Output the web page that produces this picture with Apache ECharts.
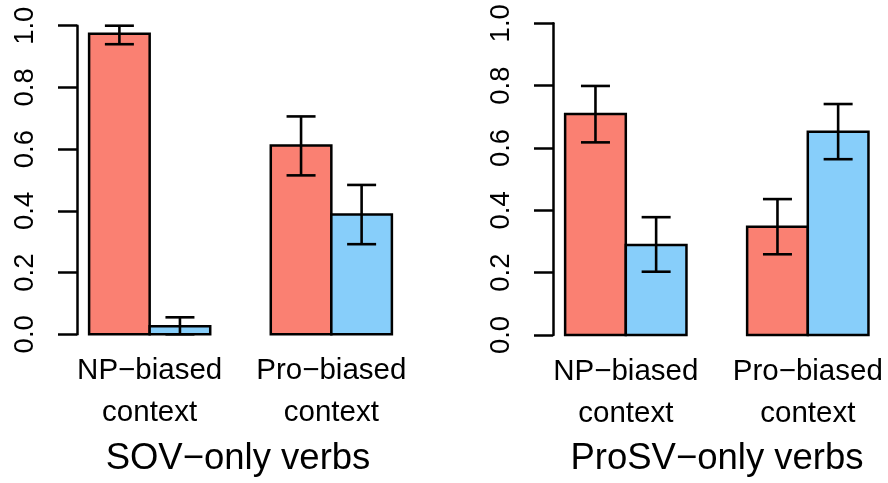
<!DOCTYPE html>
<html>
<head>
<meta charset="utf-8">
<script src="https://cdn.jsdelivr.net/npm/echarts@6/dist/echarts.min.js"></script>
<style>
  html, body { margin: 0; padding: 0; background: #fff; }
  #chart { width: 888px; height: 483px; }
</style>
</head>
<body>
<div id="chart"></div>
<script>
// 数据
const categories = ['NP\u2212biased\ncontext', 'Pro\u2212biased\ncontext'];
const panelTitles = ['SOV\u2212only verbs', 'ProSV\u2212only verbs'];
const yTicks = [0, 0.2, 0.4, 0.6, 0.8, 1.0];

// SOV-only verbs: [NP-biased, Pro-biased]
const sovRed = [0.974, 0.612];
const sovBlue = [0.026, 0.388];
const sovRedLow = [0.94, 0.515];
const sovRedHigh = [1.0, 0.706];
const sovBlueLow = [0.0, 0.292];
const sovBlueHigh = [0.055, 0.484];

// ProSV-only verbs
const prosvRed = [0.709, 0.347];
const prosvBlue = [0.289, 0.652];
const prosvRedLow = [0.618, 0.259];
const prosvRedHigh = [0.799, 0.436];
const prosvBlueLow = [0.203, 0.564];
const prosvBlueHigh = [0.378, 0.741];

const colors = ['#FA8072', '#87CEFA'];
const font = "'Liberation Sans', Arial, Helvetica, sans-serif";

const myChart = echarts.init(document.getElementById('chart'));

const grids = [
  { left: 77, right: 484, top: 25.7, bottom: 148.7 },
  { left: 553, right: 7.4, top: 23.3, bottom: 148 }
];

function barData(red, blue) {
  const out = [];
  red.forEach((v, g) => out.push([g, 0, v]));
  blue.forEach((v, g) => out.push([g, 1, v]));
  return out;
}
function errData(rl, rh, bl, bh) {
  const out = [];
  rl.forEach((v, g) => out.push([g, 0, v, rh[g]]));
  bl.forEach((v, g) => out.push([g, 1, v, bh[g]]));
  return out;
}

// 柱子：每组两根，组间空一根柱宽
function renderBar(params, api) {
  const g = api.value(0), b = api.value(1), v = api.value(2);
  const x0 = 1 + g * 3 + b;
  const p0 = api.coord([x0, 0]);
  const p1 = api.coord([x0 + 1, v]);
  return {
    type: 'rect',
    shape: { x: p0[0], y: p1[1], width: p1[0] - p0[0], height: p0[1] - p1[1] },
    style: { fill: colors[b], stroke: '#000', lineWidth: 2.5 }
  };
}

function renderErr(params, api) {
  const g = api.value(0), b = api.value(1);
  const xc = 1 + g * 3 + b + 0.5;
  const lo = api.coord([xc, api.value(2)]);
  const hi = api.coord([xc, api.value(3)]);
  const w = 14.5;
  const st = { stroke: '#000', lineWidth: 2.6, fill: null };
  return {
    type: 'group',
    children: [
      { type: 'line', shape: { x1: lo[0], y1: lo[1], x2: hi[0], y2: hi[1] }, style: st },
      { type: 'line', shape: { x1: lo[0] - w, y1: lo[1], x2: lo[0] + w, y2: lo[1] }, style: st },
      { type: 'line', shape: { x1: hi[0] - w, y1: hi[1], x2: hi[0] + w, y2: hi[1] }, style: st }
    ]
  };
}

const xAxes = grids.map((g, i) => ({
  type: 'value',
  gridIndex: i,
  min: 0.8,
  max: 6.2,
  axisLine: { show: false },
  axisTick: { show: false },
  splitLine: { show: false },
  axisLabel: {
    customValues: [2, 5],
    formatter: v => categories[Math.round((v - 2) / 3)],
    color: '#000',
    fontFamily: font,
    fontSize: 29.5,
    lineHeight: 42,
    margin: 16
  }
}));

const yAxes = grids.map((g, i) => ({
  type: 'value',
  gridIndex: i,
  min: 0,
  max: 1,
  interval: 0.2,
  splitLine: { show: false },
  axisLine: { show: true, lineStyle: { color: '#000', width: 2.5 } },
  axisTick: { show: true, length: 19, lineStyle: { color: '#000', width: 2.5 } },
  axisLabel: {
    rotate: 90,
    margin: 38,
    color: '#000',
    fontFamily: font,
    fontSize: 27.5,
    formatter: v => v.toFixed(1)
  }
}));

const options = {
  animation: false,
  backgroundColor: '#fff',
  title: panelTitles.map((t, i) => ({
    text: t,
    left: i === 0 ? 238 : 717,
    top: 440,
    textAlign: 'center',
    padding: 0,
    textStyle: { color: '#000', fontFamily: font, fontSize: 36.5, fontWeight: 'normal' }
  })),
  grid: grids,
  xAxis: xAxes,
  yAxis: yAxes,
  series: [
    { type: 'custom', xAxisIndex: 0, yAxisIndex: 0, renderItem: renderBar, data: barData(sovRed, sovBlue) },
    { type: 'custom', xAxisIndex: 0, yAxisIndex: 0, renderItem: renderErr, data: errData(sovRedLow, sovRedHigh, sovBlueLow, sovBlueHigh), z: 3 },
    { type: 'custom', xAxisIndex: 1, yAxisIndex: 1, renderItem: renderBar, data: barData(prosvRed, prosvBlue) },
    { type: 'custom', xAxisIndex: 1, yAxisIndex: 1, renderItem: renderErr, data: errData(prosvRedLow, prosvRedHigh, prosvBlueLow, prosvBlueHigh), z: 3 }
  ]
};

myChart.setOption(options);
</script>
</body>
</html>
